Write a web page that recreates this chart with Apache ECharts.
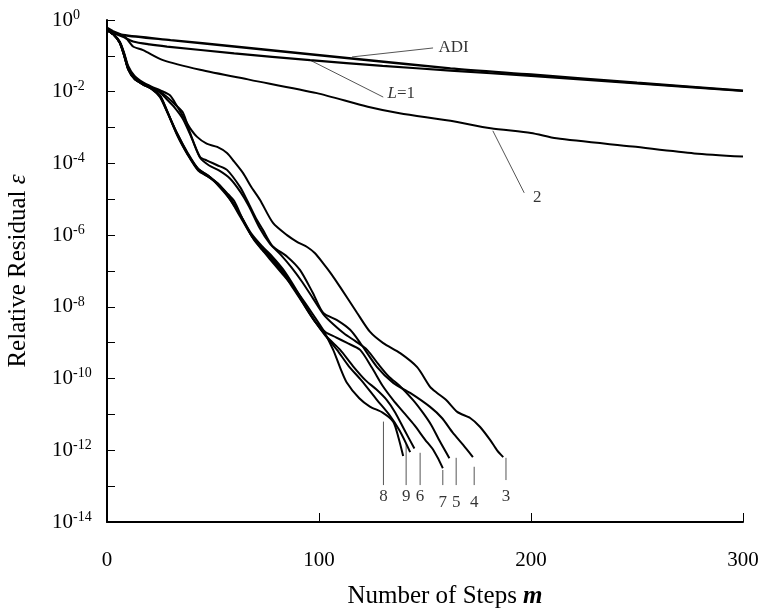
<!DOCTYPE html>
<html>
<head>
<meta charset="utf-8">
<script src="https://cdn.jsdelivr.net/npm/echarts@6/dist/echarts.min.js"></script>
<style>
  html, body { margin: 0; padding: 0; background: #fff; }
  #chart { width: 763px; height: 613px; }
</style>
</head>
<body>
<div id="chart"></div>
<script>
// Convergence histories: [step m, log10 of relative residual]
const adi = [[0,-0.22],[3,-0.32],[7.5,-0.42],[30,-0.56],[60,-0.74],[90,-0.92],[120,-1.1],[162,-1.35],[200,-1.52],[250,-1.75],[300,-1.97]];
const lev1 = [[0,-0.28],[3,-0.36],[7.5,-0.47],[12.3,-0.6],[20,-0.68],[28.3,-0.74],[60,-0.93],[95.8,-1.12],[130,-1.28],[162,-1.41],[200,-1.56],[250,-1.77],[300,-1.98]];
const lev2 = [[0,-0.28],[4,-0.36],[8.5,-0.47],[12.3,-0.74],[17,-0.84],[26.4,-1.12],[43.9,-1.39],[67.5,-1.67],[99,-2.04],[123,-2.42],[138,-2.6],[162,-2.81],[181,-3.02],[200,-3.15],[212,-3.3],[248,-3.53],[277,-3.72],[300,-3.81]];
const lev3 = [[0,-0.28],[3,-0.4],[6,-0.6],[8,-0.9],[10,-1.28],[13,-1.56],[17,-1.74],[21,-1.86],[25,-1.96],[29.7,-2.1],[33,-2.4],[36,-2.7],[39,-3.0],[42.5,-3.26],[47,-3.45],[52,-3.54],[56.6,-3.71],[60,-3.95],[64.2,-4.27],[68,-4.65],[72.2,-5.02],[78.3,-5.66],[84.9,-6.0],[90,-6.2],[94.4,-6.33],[98,-6.5],[101.9,-6.78],[106,-7.1],[110,-7.45],[118,-8.17],[124.1,-8.7],[130.3,-9.01],[138.3,-9.29],[146.3,-9.68],[152.4,-10.23],[155.7,-10.4],[160,-10.6],[165.2,-10.93],[171.3,-11.1],[176,-11.35],[180.7,-11.71],[184,-12.0],[186.9,-12.19]];
const lev4 = [[0,-0.28],[3,-0.4],[6,-0.61],[8,-0.93],[10,-1.32],[13,-1.6],[17,-1.76],[21,-1.88],[25,-2.0],[28.3,-2.15],[32,-2.35],[35.9,-2.59],[39.2,-3.15],[43.9,-3.82],[47.2,-3.92],[52,-4.05],[56.6,-4.18],[62.8,-4.66],[66,-5.02],[70,-5.5],[73.6,-5.86],[78,-6.3],[85,-6.6],[91,-6.97],[97,-7.6],[102,-8.17],[108.5,-8.37],[114.7,-8.64],[119.4,-9.0],[127.4,-9.68],[135,-10.12],[143,-10.4],[152.4,-10.79],[158,-11.1],[163,-11.5],[168,-11.85],[172.6,-12.19]];
const lev5 = [[0,-0.28],[3,-0.4],[6,-0.62],[8,-0.94],[10,-1.33],[13,-1.61],[17,-1.77],[21,-1.89],[25,-2.02],[28.3,-2.22],[32,-2.45],[36,-2.78],[40,-3.3],[44,-3.85],[48,-4.05],[53,-4.2],[58,-4.42],[63,-4.8],[67,-5.2],[72,-5.8],[77,-6.25],[82,-6.55],[87,-6.9],[92,-7.3],[97,-7.75],[102,-8.2],[107,-8.5],[112,-8.75],[117,-8.95],[122.7,-9.2],[128,-9.6],[133,-9.95],[138,-10.2],[144.4,-10.6],[149,-10.95],[153,-11.3],[157,-11.75],[161.5,-12.22]];
const lev6 = [[0,-0.28],[3,-0.4],[6,-0.63],[8,-0.97],[10,-1.37],[13,-1.64],[17,-1.8],[21,-1.92],[25,-2.12],[28,-2.5],[33,-3.15],[38,-3.7],[43,-4.15],[48,-4.35],[53,-4.65],[58,-5.0],[63,-5.45],[68,-5.95],[73,-6.3],[78,-6.6],[83,-6.95],[88,-7.4],[93,-7.9],[98,-8.4],[104,-8.85],[110,-9.2],[116,-9.65],[122,-10.05],[127,-10.3],[132,-10.6],[136,-10.95],[140,-11.4],[145,-11.95]];
const lev7 = [[0,-0.28],[3,-0.4],[6,-0.63],[8,-0.96],[10,-1.36],[13,-1.63],[17,-1.79],[21,-1.91],[25,-2.1],[28,-2.48],[33,-3.2],[38,-3.75],[43,-4.2],[48,-4.38],[53,-4.6],[58,-5.0],[63,-5.5],[68,-6.0],[73,-6.35],[78,-6.65],[83,-7.0],[88,-7.45],[93,-7.95],[98,-8.4],[103,-8.7],[108,-8.85],[113,-9.0],[119.4,-9.2],[125,-9.7],[130,-10.2],[135,-10.6],[140,-10.95],[145,-11.3],[150,-11.7],[154,-12.0],[158.4,-12.5]];
const lev8 = [[0,-0.28],[3,-0.4],[6,-0.64],[8,-0.98],[10,-1.38],[13,-1.65],[17,-1.8],[21,-1.92],[25,-2.15],[28,-2.52],[33,-3.18],[38,-3.74],[43,-4.15],[48,-4.35],[53,-4.6],[57,-4.85],[60,-5.05],[64,-5.55],[69,-6.1],[73,-6.4],[78,-6.75],[83,-7.1],[88,-7.45],[92.5,-7.81],[97,-8.2],[102,-8.65],[106.7,-9.2],[110,-9.7],[113,-10.1],[119,-10.55],[124,-10.78],[130,-10.95],[135,-11.2],[137.5,-11.65],[139.7,-12.16]];
const lev9 = [[0,-0.28],[3,-0.4],[6,-0.63],[8,-0.97],[10,-1.37],[13,-1.64],[17,-1.79],[21,-1.91],[25,-2.13],[28,-2.5],[33,-3.16],[38,-3.72],[43,-4.18],[48,-4.38],[53,-4.62],[58,-4.95],[63,-5.45],[68,-6.0],[73,-6.38],[78,-6.7],[83,-7.05],[88,-7.5],[93,-7.95],[98,-8.4],[103,-8.8],[108.5,-9.2],[114,-9.65],[120,-10.05],[127.4,-10.6],[133,-11.0],[138,-11.45],[143,-12.05]];

// Leader lines from curve labels to their curves
const leaderLines = [
  [[115.6,-1.03],[153.8,-0.78]],   // ADI
  [[95.8,-1.12],[130.3,-2.15]],    // L=1
  [[182,-3.09],[196.8,-4.82]],     // 2
  [[130.4,-11.2],[130.4,-12.97]],  // 8
  [[141.1,-11.82],[141.1,-12.97]], // 9
  [[147.7,-12.07],[147.7,-12.97]], // 6
  [[158.4,-12.55],[158.4,-12.97]], // 7
  [[164.7,-12.21],[164.7,-12.97]], // 5
  [[173.2,-12.46],[173.2,-12.97]], // 4
  [[188.2,-12.21],[188.2,-12.83]]  // 3
];
// Curve labels: [m, log10 residual, text]
const curveLabels = [
  [163.5,-0.78,'ADI'],
  [138.8,-2.06,'{i|L}=1'],
  [203,-4.96,'2'],
  [130.4,-13.3,'8'],
  [141.1,-13.3,'9'],
  [147.7,-13.3,'6'],
  [158.4,-13.46,'7'],
  [164.7,-13.46,'5'],
  [173.2,-13.46,'4'],
  [188.2,-13.29,'3']
];

const SERIF = 'Liberation Serif';
const chart = echarts.init(document.getElementById('chart'), null, { renderer: 'canvas' });

function curve(data, width) {
  return {
    type: 'line', data: data, showSymbol: false, smooth: 0.25,
    lineStyle: { color: '#000', width: width }, z: 3
  };
}

const series = [
  curve(adi, 2.4), curve(lev1, 2.2), curve(lev2, 2.0),
  curve(lev3, 2.0), curve(lev4, 2.0), curve(lev5, 2.0), curve(lev6, 2.0),
  curve(lev7, 2.0), curve(lev8, 2.0), curve(lev9, 2.0)
];
leaderLines.forEach(function (seg) {
  series.push({
    type: 'line', data: seg, showSymbol: false,
    lineStyle: { color: '#555', width: 1 }, z: 2
  });
});
series.push({
  type: 'scatter', data: curveLabels, symbolSize: 1,
  itemStyle: { color: 'rgba(0,0,0,0)' },
  label: {
    show: true, position: 'inside',
    formatter: function (p) { return p.value[2]; },
    fontFamily: SERIF, fontSize: 17, color: '#000',
    rich: { i: { fontFamily: SERIF, fontSize: 17, fontStyle: 'italic', color: '#000' } }
  },
  z: 4
});

chart.setOption({
  animation: false,
  backgroundColor: '#fff',
  grid: { left: 107, right: 20, top: 20, bottom: 91, containLabel: false, outerBoundsMode: 'none' },
  xAxis: {
    type: 'value', min: 0, max: 300, interval: 100,
    name: '{n|Number of Steps }{m|m}',
    nameLocation: 'middle', nameGap: 62,
    nameTextStyle: {
      padding: [0, 0, 0, 40],
      rich: {
        n: { fontFamily: SERIF, fontSize: 25, color: '#000' },
        m: { fontFamily: SERIF, fontSize: 25, fontStyle: 'italic', fontWeight: 'bold', color: '#000' }
      }
    },
    axisLine: { onZero: false, lineStyle: { color: '#000', width: 2 } },
    axisTick: { inside: true, length: 9, lineStyle: { color: '#000', width: 1 } },
    axisLabel: { margin: 28, fontFamily: SERIF, fontSize: 21, color: '#000' },
    splitLine: { show: false }
  },
  yAxis: {
    type: 'value', min: -14, max: 0, interval: 1,
    name: '{n|Relative Residual }{e|ε}',
    nameLocation: 'middle', nameGap: 76,
    nameTextStyle: {
      rich: {
        n: { fontFamily: SERIF, fontSize: 25, color: '#000' },
        e: { fontFamily: SERIF, fontSize: 25, fontStyle: 'italic', color: '#000' }
      }
    },
    axisLine: { onZero: false, lineStyle: { color: '#000', width: 2 } },
    axisTick: { inside: true, length: 8, lineStyle: { color: '#000', width: 1 } },
    axisLabel: {
      align: 'left', margin: 55,
      formatter: function (v) {
        if (Math.round(v) % 2 !== 0) return '';
        return '{b|10}{s|' + Math.round(v) + '}';
      },
      rich: {
        b: { fontFamily: SERIF, fontSize: 21, color: '#000', lineHeight: 24 },
        s: { fontFamily: SERIF, fontSize: 14, color: '#000', lineHeight: 14, verticalAlign: 'top' }
      }
    },
    splitLine: { show: false }
  },
  series: series
});
</script>
</body>
</html>
